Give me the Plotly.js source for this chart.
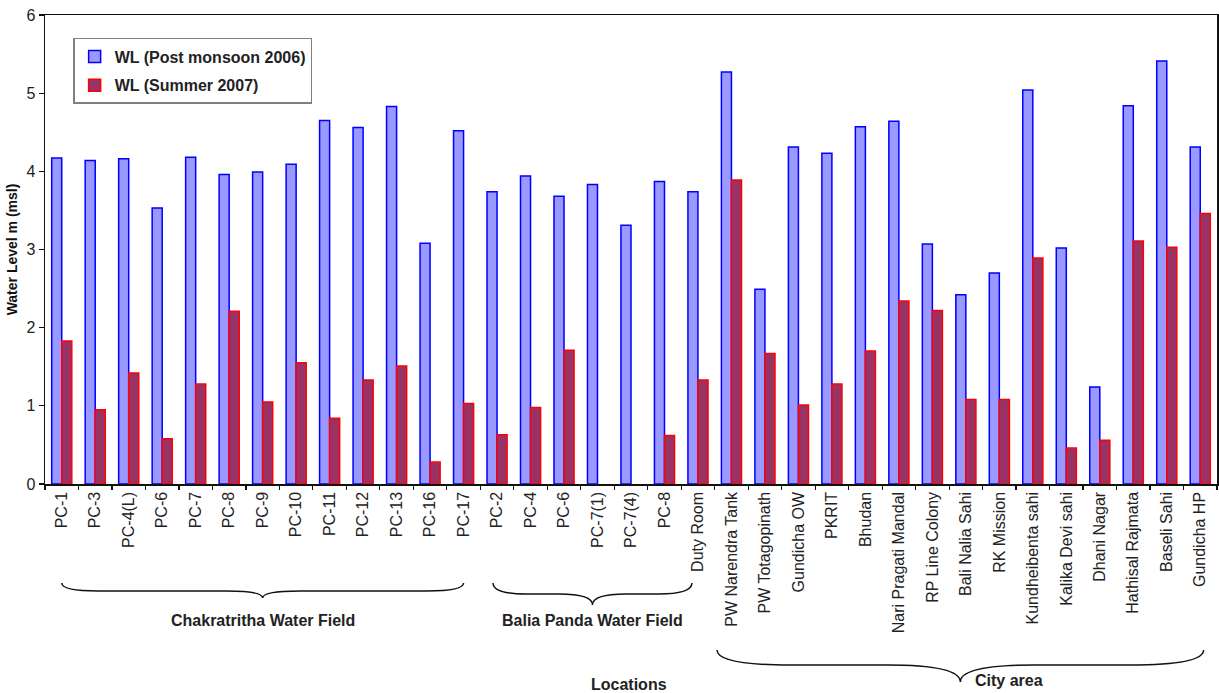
<!DOCTYPE html>
<html>
<head>
<meta charset="utf-8">
<script src="https://cdn.plot.ly/plotly-3.0.1.min.js"></script>
<style>html,body{margin:0;padding:0;background:#fff;}#chart{width:1219px;height:693px;}</style>
</head>
<body>
<div id="chart"></div>
<script>
// ---- data ----
const locations = ["PC-1","PC-3","PC-4(L)","PC-6","PC-7","PC-8","PC-9","PC-10","PC-11","PC-12","PC-13","PC-16","PC-17",
  "PC-2","PC-4","PC-6","PC-7(1)","PC-7(4)","PC-8",
  "Duty Room","PW Narendra Tank","PW Totagopinath","Gundicha OW","PKRIT","Bhudan","Nari Pragati Mandal","RP Line Colony",
  "Bali Nalia Sahi","RK Mission","Kundheibenta sahi","Kalika Devi sahi","Dhani Nagar","Hathisal Rajmata","Baseli Sahi","Gundicha HP"];
const postMonsoon2006 = [4.17,4.14,4.16,3.53,4.18,3.96,3.99,4.09,4.65,4.56,4.83,3.08,4.52,
  3.74,3.94,3.68,3.83,3.31,3.87,
  3.74,5.27,2.49,4.31,4.23,4.57,4.64,3.07,2.42,2.70,5.04,3.02,1.24,4.84,5.41,4.31];
const summer2007 = [1.83,0.95,1.42,0.58,1.28,2.21,1.05,1.55,0.84,1.33,1.51,0.28,1.03,
  0.63,0.98,1.71,null,null,0.62,
  1.33,3.89,1.67,1.01,1.28,1.70,2.34,2.22,1.08,1.08,2.89,0.46,0.56,3.11,3.03,3.46];
const seriesNames = ["WL (Post monsoon 2006)","WL (Summer 2007)"];
const groupLabels = ["Chakratritha Water Field","Balia Panda Water Field","City area"];
const groupSpans = [[0,12],[12.88,18.82],[19.57,34.1]]; // brace extents in category units

const idx = locations.map((_, i) => i);
const font = "Arial, 'Liberation Sans', sans-serif";

const traces = [
  {type:"bar", x: idx, y: postMonsoon2006, name: seriesNames[0], legendgroup:"a",
   marker:{color:"#9999ff", line:{color:"#0000ff", width:1.5}}},
  {type:"bar", x: idx, y: summer2007, name: seriesNames[1], legendgroup:"b",
   marker:{color:"#993366", line:{color:"#ff0000", width:1.5}}},
  // invisible trace carrying boundary ticks on the secondary x axis
  {type:"scatter", x:[-0.5], y:[0], xaxis:"x2", mode:"markers", marker:{opacity:0}, showlegend:false, hoverinfo:"skip"}
];

// braces
const braceY = [[-0.211,-0.228,-0.243],[-0.211,-0.2345,-0.258],[-0.354,-0.386,-0.422]];
const braceD = [1.1, 1.0, 2.2];
const shapes = groupSpans.map((s, k) => {
  const [x0, x1] = s; const xm = (x0 + x1) / 2; const d = braceD[k];
  const [yE, yL, yT] = braceY[k];
  const path = `M ${x0},${yE} Q ${x0},${yL} ${x0+d},${yL} L ${xm-d},${yL} Q ${xm},${yL} ${xm},${yT} ` +
               `Q ${xm},${yL} ${xm+d},${yL} L ${x1-d},${yL} Q ${x1},${yL} ${x1},${yE}`;
  return {type:"path", xref:"x", yref:"paper", path, line:{color:"#111", width:1.5}};
});

const labelY = [-0.292, -0.292, -0.418];
const labelX = [6.0, 15.85, 28.3];
const annotations = groupLabels.map((t, k) => ({
  text:"<b>"+t+"</b>", xref:"x", yref:"paper", x:labelX[k], y:labelY[k], showarrow:false,
  font:{family:font, size:16, color:"#222"}, xanchor:"center", yanchor:"middle"
}));
annotations.push({text:"<b>Locations</b>", xref:"x", yref:"paper", x:16.95, y:-0.427, showarrow:false,
  font:{family:font, size:16, color:"#222"}, xanchor:"center", yanchor:"middle"});

const boundaries = locations.map((_, i) => i - 0.5).concat([locations.length - 0.5]);

const layout = {
  width:1219, height:693,
  margin:{l:45, r:2, t:15, b:209},
  paper_bgcolor:"#fff", plot_bgcolor:"#fff",
  barmode:"group", bargap:0.4, bargroupgap:0,
  font:{family:font, color:"#222"},
  showlegend:true,
  legend:{x:0.024, y:0.951, xanchor:"left", yanchor:"top", bgcolor:"#fff",
    bordercolor:"#808080", borderwidth:1.5, tracegroupgap:5,
    font:{family:font, size:16, color:"#222", weight:"bold"}},
  xaxis:{range:[-0.5, locations.length - 0.5], tickmode:"array", tickvals:idx, ticktext:locations,
    tickangle:-90, ticks:"", showline:true, linecolor:"#111", linewidth:1.5, mirror:true,
    showgrid:false, zeroline:false, tickfont:{family:font, size:16, color:"#222"}, fixedrange:true},
  xaxis2:{overlaying:"x", matches:"x", side:"bottom", anchor:"y", tickmode:"array", tickvals:boundaries,
    showticklabels:false, ticks:"outside", ticklen:5, tickwidth:1.2, tickcolor:"#111",
    showline:false, showgrid:false, zeroline:false},
  yaxis:{range:[0,6], dtick:1, ticks:"outside", ticklen:5, tickwidth:1.2, tickcolor:"#111",
    showline:true, linecolor:"#111", linewidth:1.5, mirror:true, showgrid:false, zeroline:false,
    tickfont:{family:font, size:16, color:"#222"},
    title:{text:"<b>Water Level m (msl)</b>", font:{family:font, size:14, color:"#111"}, standoff:5}},
  shapes, annotations
};

Plotly.newPlot("chart", traces, layout, {displayModeBar:false, staticPlot:true});
</script>
</body>
</html>
